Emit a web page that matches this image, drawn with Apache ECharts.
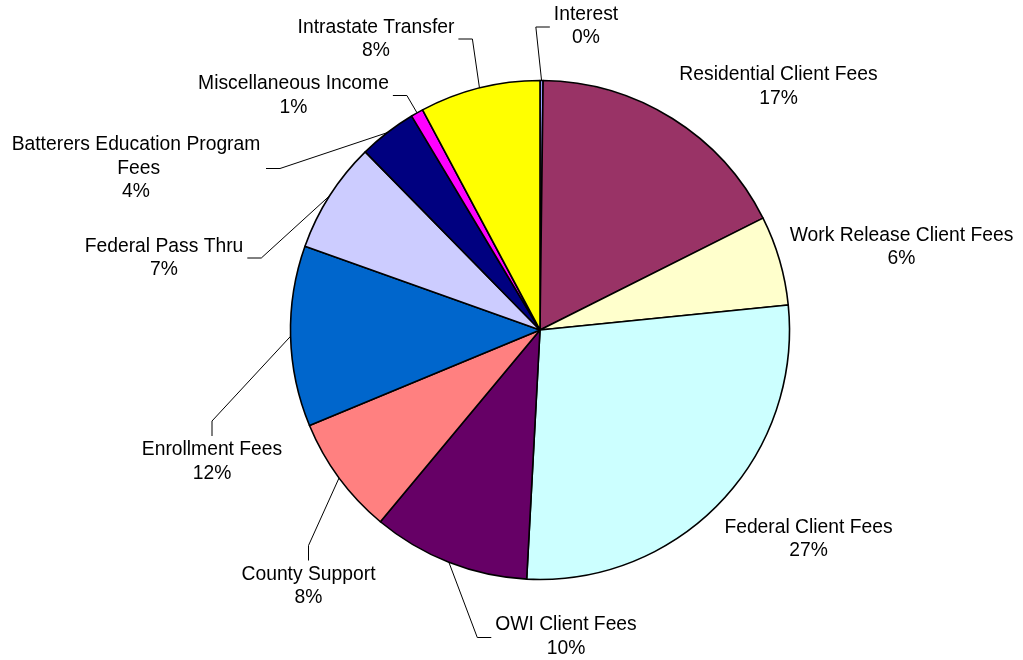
<!DOCTYPE html>
<html lang="en">
<head>
    <meta charset="UTF-8">
    <title>Revenue Sources</title>
    <script src="https://cdn.jsdelivr.net/npm/echarts@6/dist/echarts.min.js"></script>
    <style>
        html, body { margin: 0; padding: 0; background: #fff; }
        #chart { width: 1023px; height: 660px; }
    </style>
</head>
<body>
<div id="chart"></div>
<script>
    // data (share of total, %)
    const categories = [
        'Interest',
        'Residential Client Fees',
        'Work Release Client Fees',
        'Federal Client Fees',
        'OWI Client Fees',
        'County Support',
        'Enrollment Fees',
        'Federal Pass Thru',
        'Batterers Education Program Fees',
        'Miscellaneous Income',
        'Intrastate Transfer'
    ];
    const shares = [0.2, 17.4, 5.8, 27.45, 10.2, 7.7, 11.7, 7.2, 3.75, 0.8, 7.8];
    const colors = ['#9999FF', '#993366', '#FFFFCC', '#CCFFFF', '#660066', '#FF8080',
        '#0066CC', '#CCCCFF', '#000080', '#FF00FF', '#FFFF00'];

    // label placement (centre of each label) and where its leader line attaches
    const labelCenters = [[586, 26], [778.5, 86.5], [901.5, 247], [808.5, 539], [566, 636.5], [308.5, 586],
        [212, 461.5], [164, 258], [136, 168.5], [293.5, 95.5], [376, 39]];
    const leaderSide = ['left', '', '', '', 'left', 'top', 'top', 'right', 'right', 'right', 'right'];

    let myChart = echarts.init(document.getElementById('chart'));

    let pieData = categories.map((name, i) => {
        let item = {
            name: name,
            value: shares[i],
            itemStyle: {color: colors[i]}
        };
        if (!leaderSide[i]) item.labelLine = {show: false};
        if (name.length > 28) item.label = {width: 252, overflow: 'break'};
        return item;
    });

    let option = {
        animation: false,
        backgroundColor: '#ffffff',
        series: [
            {
                type: 'pie',
                center: [540, 330],
                radius: 249.5,
                startAngle: 90,
                clockwise: true,
                avoidLabelOverlap: false,
                percentPrecision: 0,
                itemStyle: {borderColor: '#000', borderWidth: 1.6},
                label: {
                    show: true,
                    position: 'outside',
                    formatter: '{b}\n{d}%',
                    fontFamily: 'Liberation Sans, Arial, sans-serif',
                    fontSize: 19.3,
                    lineHeight: 23.5,
                    color: '#000',
                    align: 'center'
                },
                labelLine: {
                    show: true,
                    length: 20,
                    length2: 15,
                    lineStyle: {color: '#000', width: 1}
                },
                emphasis: {disabled: true},
                labelLayout: function (params) {
                    let i = params.dataIndex;
                    let cx = labelCenters[i][0], cy = labelCenters[i][1];
                    let w = params.labelRect.width, h = params.labelRect.height;
                    let res = {x: cx, y: cy, align: 'center', verticalAlign: 'middle'};
                    let side = leaderSide[i];
                    if (side && params.labelLinePoints) {
                        let p0 = params.labelLinePoints[0];
                        let end, elbow;
                        if (side === 'left') {
                            end = [cx - w / 2 - 4, cy + 1];
                            elbow = [end[0] - 14, end[1]];
                        } else if (side === 'right') {
                            end = [cx + w / 2 + 4, cy];
                            elbow = [end[0] + 14, end[1]];
                        } else {
                            end = [cx, cy - h / 2 - 2];
                            elbow = [cx, end[1] - 15];
                        }
                        res.labelLinePoints = [p0, elbow, end];
                    }
                    return res;
                },
                data: pieData
            }
        ]
    };

    myChart.setOption(option);
</script>
</body>
</html>
